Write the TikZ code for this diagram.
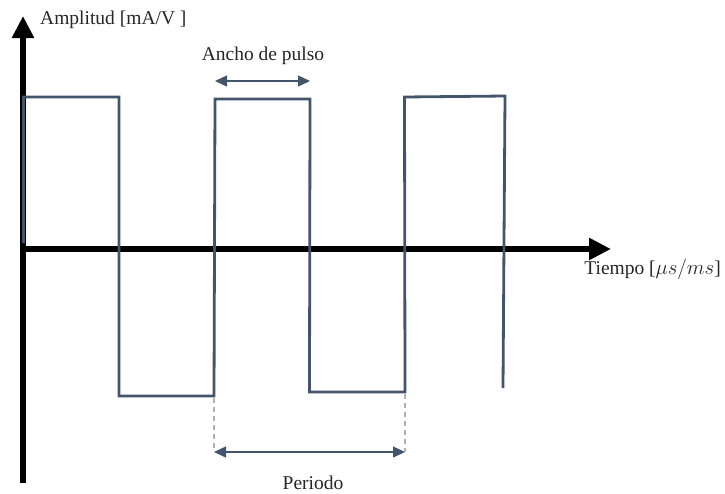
\documentclass[tikz,border=0pt]{standalone}
\usepackage{fontspec}
\setmainfont{Liberation Serif}
\usetikzlibrary{arrows.meta}
\definecolor{wave}{HTML}{44546A}
\definecolor{guidegray}{HTML}{B0B0B0}
\begin{document}
\begin{tikzpicture}[x=1pt,y=-1pt,
  axis/.style={line width=6pt, -{Triangle[length=22pt,width=21pt]}},
  signal/.style={draw=wave, line width=2.8pt, line join=miter},
  span/.style={draw=wave, line width=1.4pt,
    {Triangle[length=12pt,width=11pt]}-{Triangle[length=12pt,width=11pt]}},
  guide/.style={draw=guidegray, line width=1.2pt, dash pattern=on 5pt off 4pt},
  lbl/.style={font=\fontsize{19.5}{22}\selectfont, inner sep=0pt, text=black!85}]
\useasboundingbox (0,0) rectangle (725,493);

% axes
\coordinate (o) at (23,249);
\coordinate (ybot) at (23,483);
\coordinate (ytop) at (23,16);
\coordinate (xend) at (611,249);
\draw[axis] (ybot) -- (ytop);
\draw[axis] (o) -- (xend);

% square wave
\coordinate (w0) at (23.5,243);
\coordinate (w1) at (23.5,97);
\coordinate (w2) at (119,97);
\coordinate (w3) at (119,396);
\coordinate (w4) at (214,396);
\coordinate (w5) at (215,99);
\coordinate (w6) at (310,99);
\coordinate (w7) at (309.5,392);
\coordinate (w8) at (405,392);
\coordinate (w9) at (404.5,97);
\coordinate (w10) at (505,96);
\coordinate (w11) at (503,388);
\draw[signal] (w0) -- (w1) -- (w2) -- (w3) -- (w4) -- (w5) -- (w6)
  -- (w7) -- (w8) -- (w9) -- (w10) -- (w11);

% pulse width
\coordinate (pw1) at (215,81);
\coordinate (pw2) at (310,81);
\draw[span] (pw1) -- (pw2);

% period
\coordinate (pa) at (214,398);
\coordinate (pb) at (405,394);
\coordinate (pa2) at (214,452);
\coordinate (pb2) at (405,452);
\draw[guide] (pa) -- (pa2);
\draw[guide] (pb) -- (pb2);
\draw[span] (pa2) -- (pb2);

% labels
\node[lbl, anchor=base west] (ylabel) at (40,24) {Amplitud [mA/V ]};
\node[lbl, anchor=base] (pwlabel) at (263,60) {Ancho de pulso};
\node[lbl, anchor=base] (perlabel) at (313,489) {Periodo};
\node[lbl, anchor=base east] (xlabel) at (721,274) {Tiempo [$\mu s/ms$]};
\end{tikzpicture}
\end{document}
